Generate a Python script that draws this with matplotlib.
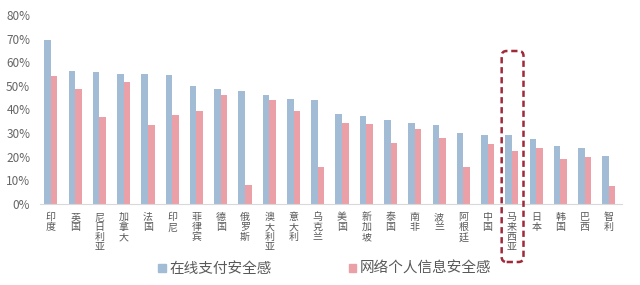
import numpy as np
import matplotlib.pyplot as plt
from matplotlib.patches import FancyBboxPatch, Patch
from matplotlib.ticker import PercentFormatter
from matplotlib.transforms import IdentityTransform

plt.rcParams['font.family'] = ['Noto Sans CJK SC', 'DejaVu Sans']

countries = ["印度", "英国", "尼日利亚", "加拿大", "法国", "印尼", "菲律宾", "德国",
             "俄罗斯", "澳大利亚", "意大利", "乌克兰", "美国", "新加坡", "泰国", "南非",
             "波兰", "阿根廷", "中国", "马来西亚", "日本", "韩国", "巴西", "智利"]
pay_safe = [69.3, 56.1, 55.8, 55.2, 55.2, 54.7, 49.9, 48.5, 48.0, 46.0, 44.3, 43.9,
            38.3, 37.1, 35.5, 34.1, 33.3, 30.0, 29.4, 29.3, 27.6, 24.4, 23.9, 20.4]
info_safe = [54.3, 48.5, 36.7, 51.5, 33.3, 37.8, 39.2, 46.0, 8.1, 43.9, 39.2, 15.5,
             34.1, 33.7, 25.8, 31.7, 28.0, 15.6, 25.2, 22.5, 23.6, 19.0, 20.0, 7.8]
series_names = ["在线支付安全感", "网络个人信息安全感"]
highlight = "马来西亚"

blue = '#a3bcd6'
pink = '#eba0a8'
grey = '#595959'

fig = plt.figure(figsize=(6.4, 2.85), dpi=100)
ax = fig.add_axes([40 / 640, 1 - 204 / 285, 582 / 640, 189 / 285])

x = np.arange(len(countries))
w = 0.27
ax.bar(x - w / 2, pay_safe, w, color=blue)
ax.bar(x + w / 2, info_safe, w, color=pink)

ax.set_xlim(-0.45, len(countries) - 0.46)
ax.set_ylim(0, 80)
ax.set_yticks(np.arange(0, 81, 10))
ax.yaxis.set_major_formatter(PercentFormatter(decimals=0))
ax.set_xticks(x)
ax.set_xticklabels(["\n".join(c) for c in countries], fontsize=7.2, color=grey,
                   linespacing=1.0, va='top')
ax.tick_params(axis='y', length=0, pad=7, labelsize=8.5, labelcolor='#666666')
ax.tick_params(axis='x', length=0, pad=6)
for s in ['top', 'right', 'left']:
    ax.spines[s].set_visible(False)
ax.spines['bottom'].set_color('#d9d9d9')

handles = [Patch(color=blue), Patch(color=pink)]
fig.legend(handles, series_names, loc='center', bbox_to_anchor=(325 / 640, 1 - 269 / 285),
           ncol=2, frameon=False, fontsize=10.5, labelcolor=grey, handlelength=0.5,
           handleheight=0.5, handletextpad=0.25, columnspacing=5.3)

# dashed box around the highlighted country
fig.canvas.draw()
i = countries.index(highlight)
x0 = ax.transData.transform((i - 0.42, 0))[0]
x1 = ax.transData.transform((i + 0.48, 0))[0]
y_top = 285 - 51
y_bot = 285 - 262
box = FancyBboxPatch((x0, y_bot), x1 - x0, y_top - y_bot,
                     boxstyle="round,pad=0,rounding_size=5",
                     transform=IdentityTransform(), fill=False,
                     edgecolor='#9e2a3a', linewidth=1.8, linestyle=(0, (2.5, 1.5)))
fig.add_artist(box)

fig.savefig("out.png", dpi=100)
